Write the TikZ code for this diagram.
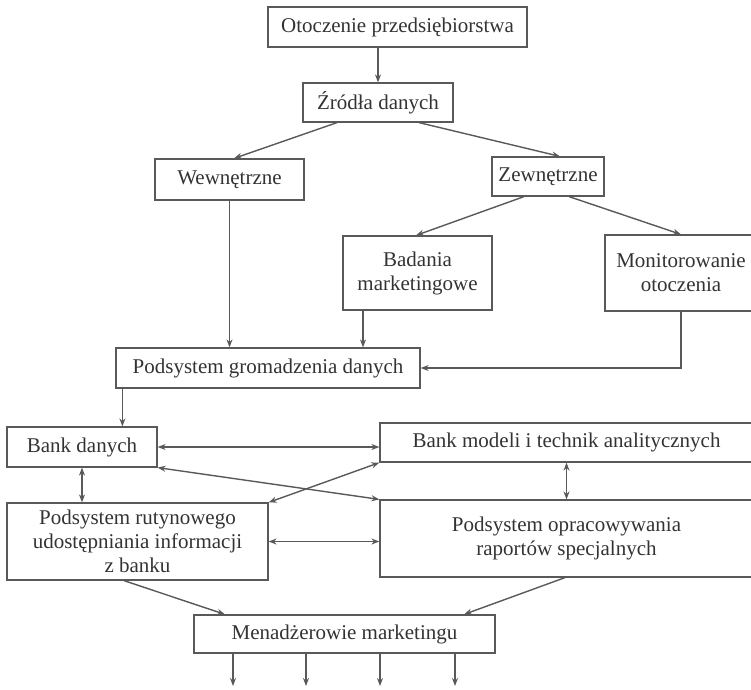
\documentclass[tikz,border=0pt]{standalone}
\usepackage{fontspec}
\setmainfont{Liberation Serif}
\usetikzlibrary{arrows.meta,calc}
\begin{document}
\begin{tikzpicture}[x=1pt,y=-1pt,
  box/.style={draw=black!65,line width=1.2pt,text=black!80,align=center,inner sep=0pt,
    font=\fontsize{21}{24}\selectfont},
  arr/.style={draw=black!65,line width=1.4pt,-{Stealth[length=8pt,width=6pt]}},
  darr/.style={draw=black!65,line width=1.4pt,{Stealth[length=8pt,width=6pt]}-{Stealth[length=8pt,width=6pt]}}]
\useasboundingbox (0,0) rectangle (751,689);
\node[box,minimum width=259pt,minimum height=40pt] (ot) at (397.5,27) {Otoczenie przedsiębiorstwa};
\node[box,minimum width=150pt,minimum height=39pt] (zr) at (378,102.5) {Źródła danych};
\node[box,minimum width=149pt,minimum height=41pt] (wew) at (229.5,179.5) {Wewnętrzne};
\node[box,minimum width=112pt,minimum height=39pt] (zew) at (548,176.5) {Zewnętrzne};
\node[box,minimum width=149pt,minimum height=74pt] (bad) at (417.5,273) {Badania\\marketingowe};
\node[box,minimum width=152pt,minimum height=76pt] (mon) at (681,273) {Monitorowanie\\otoczenia};
\node[box,minimum width=304pt,minimum height=40pt] (pgd) at (268,368) {Podsystem gromadzenia danych};
\node[box,minimum width=150pt,minimum height=40pt] (bd) at (82,447) {Bank danych};
\node[box,minimum width=373pt,minimum height=39pt] (bm) at (566.5,442.5) {Bank modeli i technik analitycznych};
\node[box,minimum width=261pt,minimum height=77pt] (pr) at (137.5,541.5) {Podsystem rutynowego\\udostępniania informacji\\z banku};
\node[box,minimum width=373pt,minimum height=77pt] (po) at (566.5,538.5) {Podsystem opracowywania\\raportów specjalnych};
\node[box,minimum width=301pt,minimum height=38pt] (men) at (344.5,634) {Menadżerowie marketingu};
% helper coordinates
\coordinate (b1) at ([xshift=-54.5pt]bad.south);
\coordinate (g1) at ([xshift=7pt]pgd.south west);
\coordinate (e1) at (233,686);
\coordinate (e2) at (306,686);
\coordinate (e3) at (380,686);
\coordinate (e4) at (455,686);
% connectors
\draw[arr] (zr.north |- ot.south) -- (zr.north);
\draw[arr] ([xshift=-41pt]zr.south) -- ([xshift=4.5pt]wew.north);
\draw[arr] ([xshift=41pt]zr.south) -- ([xshift=12pt]zew.north);
\draw[arr] ([xshift=-24pt]zew.south) -- ([xshift=-1.5pt]bad.north);
\draw[arr] ([xshift=21pt]zew.south) -- (mon.north);
\draw[arr] (wew.south) -- (wew.south |- pgd.north);
\draw[arr] (b1) -- (b1 |- pgd.north);
\draw[arr] (mon.south) -- (mon.south |- pgd.east) -- (pgd.east);
\draw[arr] (g1) -- (g1 |- bd.north);
\draw[darr] (bd.east) -- (bd.east -| bm.west);
\draw[darr] (bd.south) -- (bd.south |- pr.north);
\draw[darr] (bd.south east) -- (po.north west);
\draw[darr] (bm.south west) -- (pr.north east);
\draw[darr] (bm.south) -- (po.north);
\draw[darr] (pr.east) -- (pr.east -| po.west);
\draw[arr] ([xshift=-13.5pt]pr.south) -- ([xshift=-119.5pt]men.north);
\draw[arr] ([xshift=-1.5pt]po.south) -- ([xshift=119.5pt]men.north);
\draw[arr] (e1 |- men.south) -- (e1);
\draw[arr] (e2 |- men.south) -- (e2);
\draw[arr] (e3 |- men.south) -- (e3);
\draw[arr] (e4 |- men.south) -- (e4);
\end{tikzpicture}
\end{document}
